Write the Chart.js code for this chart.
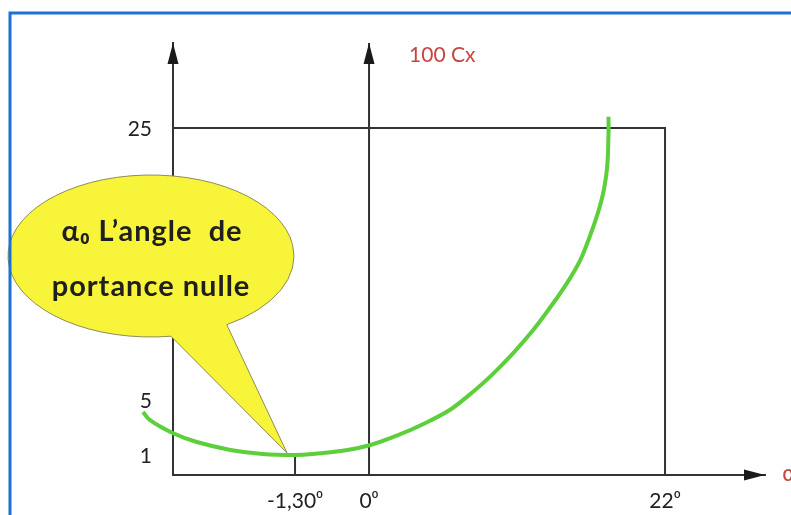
<!DOCTYPE html>
<html>
<head>
<meta charset="utf-8">
<script src="https://cdn.jsdelivr.net/npm/chart.js@4.4.1/dist/chart.umd.min.js"></script>
<style>
  html, body { margin: 0; background: #fff; }
  canvas { display: block; }
</style>
</head>
<body>
<canvas id="chart" width="791" height="515"></canvas>
<script>
// schematic units: the drawing is not to scale, so values are read in figure units
const xTickValues = [-5.5, 0, 22];
const xTickLabels = ['-1,30⁰', '0⁰', '22⁰'];
const yTickValues = [1, 5, 25];
const yTickLabels = ['1', '5', '25'];

// polar curve 100 Cx = f(alpha)
const alpha = [-16.8, -16.3, -14.6, -12.8, -10.3, -7.9, -5.5, -4.2, -1.6, 0.1, 2.2, 4.2, 6.0, 7.3, 9.0, 10.7, 12.2, 13.5, 14.7, 15.7, 16.4, 17.0, 17.4, 17.7, 17.8, 17.8];
const cx100 = [4.16, 3.57, 2.61, 1.95, 1.37, 1.07, 1.0, 1.07, 1.37, 1.73, 2.47, 3.35, 4.3, 5.28, 6.75, 8.46, 10.17, 11.88, 13.6, 15.31, 17.02, 18.74, 20.21, 22.16, 24.61, 25.83];

// zero-lift point the callout points at
const zeroLiftAlpha = -5.5;
const zeroLiftCx = 1;

const X_MIN = -14.57, X_MAX = 29.43;
const Y_MIN = -0.47, Y_MAX = 31.24;

const ink = '#333333';
const green = '#5ccf3a';
const red = '#c8453f';

const curve = alpha.map((a, i) => ({ x: a, y: cx100[i] }));
const box = [{ x: X_MIN, y: 25 }, { x: 22, y: 25 }, { x: 22, y: Y_MIN }];
const zeroAxis = [{ x: 0, y: Y_MIN }, { x: 0, y: Y_MAX }];
const tickMark = [{ x: zeroLiftAlpha, y: Y_MIN }, { x: zeroLiftAlpha, y: zeroLiftCx }];

function arrowHead(ctx, x, y, dir) {
  ctx.save();
  ctx.translate(x, y);
  ctx.rotate(dir);
  ctx.beginPath();
  ctx.moveTo(0, 0);
  ctx.lineTo(-21, -5.5);
  ctx.lineTo(-21, 5.5);
  ctx.closePath();
  ctx.fillStyle = '#1a1a1a';
  ctx.fill();
  ctx.restore();
}

const decor = {
  id: 'decor',
  afterDatasetsDraw(chart) {
    const { ctx, chartArea, scales } = chart;
    arrowHead(ctx, chartArea.left, chartArea.top, -Math.PI / 2);
    arrowHead(ctx, scales.x.getPixelForValue(0), chartArea.top, -Math.PI / 2);
    arrowHead(ctx, chartArea.right, chartArea.bottom, 0);
  },
  afterDraw(chart) {
    const { ctx, scales, chartArea } = chart;
    ctx.save();

    // callout bubble
    const cx = 151, cy = 256, rx = 143, ry = 81;
    const tipX = scales.x.getPixelForValue(zeroLiftAlpha) - 8;
    const tipY = scales.y.getPixelForValue(zeroLiftCx) - 2;
    ctx.beginPath();
    ctx.ellipse(cx, cy, rx, ry, 0, 82 * Math.PI / 180, 58 * Math.PI / 180, false);
    ctx.lineTo(tipX, tipY);
    ctx.closePath();
    ctx.fillStyle = '#f7f43a';
    ctx.fill();
    ctx.strokeStyle = '#8d8b58';
    ctx.lineWidth = 1;
    ctx.stroke();

    ctx.fillStyle = '#1f1f1f';
    ctx.font = 'bold 29px Lato';
    ctx.letterSpacing = '1px';
    ctx.textAlign = 'center';
    ctx.textBaseline = 'middle';
    ctx.fillText('α₀ L’angle  de', cx + 1, 232);
    ctx.fillText('portance nulle', cx, 287);
    ctx.letterSpacing = '0px';

    // axis names
    ctx.fillStyle = red;
    ctx.font = '21px Lato';
    ctx.textAlign = 'left';
    ctx.fillText('100 Cx', scales.x.getPixelForValue(0) + 40, 55);
    ctx.font = '22px "DejaVu Sans"';
    ctx.fillText('α', chartArea.right + 17, chartArea.bottom);

    // blue frame
    ctx.strokeStyle = '#1b72d3';
    ctx.lineWidth = 3;
    ctx.beginPath();
    ctx.moveTo(10, 515);
    ctx.lineTo(10, 13);
    ctx.lineTo(791, 13);
    ctx.stroke();
    ctx.restore();
  }
};

const lineStyle = { borderColor: ink, borderWidth: 2, pointRadius: 0, tension: 0, fill: false, clip: false };

new Chart(document.getElementById('chart'), {
  type: 'line',
  data: {
    datasets: [
      { label: '100 Cx', data: curve, borderColor: green, borderWidth: 4, pointRadius: 0,
        tension: 0.3, fill: false, clip: false },
      Object.assign({ data: box }, lineStyle),
      Object.assign({ data: zeroAxis }, lineStyle),
      Object.assign({ data: tickMark }, lineStyle)
    ]
  },
  options: {
    responsive: false,
    animation: false,
    events: [],
    layout: { padding: { top: 43, right: 26, left: 0, bottom: 0 } },
    plugins: { legend: { display: false }, tooltip: { enabled: false } },
    scales: {
      x: {
        type: 'linear', bounds: 'data',
        // range set after data limits so the curve's left tail is not trimmed
        afterDataLimits: s => { s.min = X_MIN; s.max = X_MAX; },
        grid: { display: false, drawTicks: false },
        border: { display: true, color: ink, width: 2 },
        afterBuildTicks: s => { s.ticks = xTickValues.map(v => ({ value: v })); },
        afterFit: s => { s.height = 40; },
        ticks: {
          autoSkip: false, maxRotation: 0, padding: 14,
          color: '#222', font: { family: 'Lato', size: 21 },
          callback: (v, i) => xTickLabels[i]
        }
      },
      y: {
        type: 'linear', min: Y_MIN, max: Y_MAX,
        grid: { display: false, drawTicks: false },
        border: { display: true, color: ink, width: 2 },
        afterBuildTicks: s => { s.ticks = yTickValues.map(v => ({ value: v })); },
        afterFit: s => { s.width = 173; },
        ticks: {
          autoSkip: false, padding: 21, labelOffset: 1,
          color: '#222', font: { family: 'Lato', size: 21 },
          callback: (v, i) => yTickLabels[i]
        }
      }
    }
  },
  plugins: [decor]
});
</script>
</body>
</html>
